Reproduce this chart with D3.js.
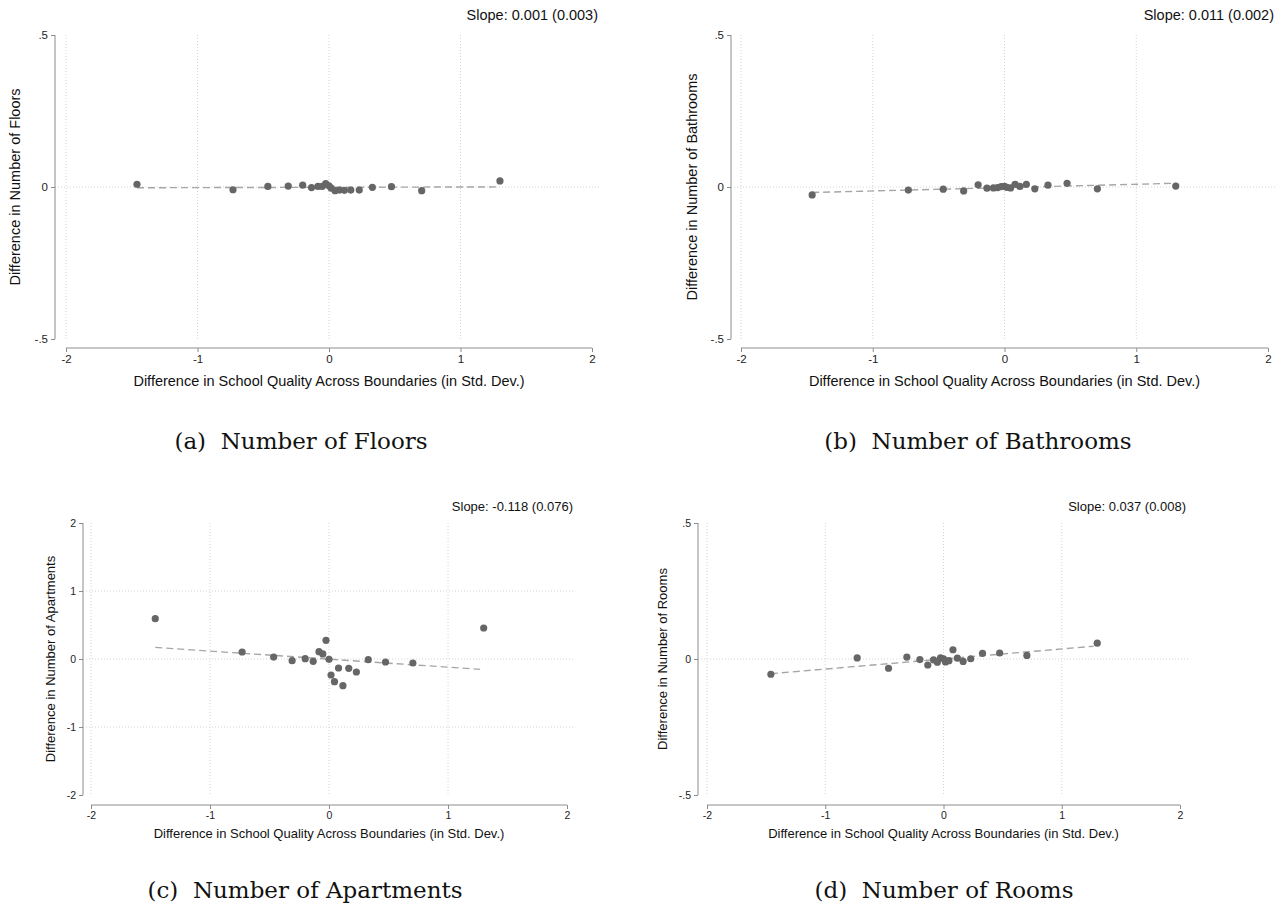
<!DOCTYPE html>
<html>
<head>
<meta charset="utf-8">
<script src="https://cdn.jsdelivr.net/npm/d3@7"></script>
<style>
  html, body { margin: 0; padding: 0; background: #fff; }
  svg { display: block; }
</style>
</head>
<body>
<svg id="chart" width="1288" height="909"></svg>
<script>
// ---------------- DATA ----------------
const xDiff = [-1.46, -0.73, -0.465, -0.31, -0.20, -0.133, -0.084, -0.052, -0.025, 0.0,
               0.017, 0.046, 0.08, 0.117, 0.166, 0.23, 0.33, 0.475, 0.705, 1.30];
const yFloors = [0.009, -0.009, 0.002, 0.003, 0.006, -0.002, 0.002, 0.002, 0.011, 0.004,
                 -0.004, -0.012, -0.010, -0.011, -0.010, -0.010, -0.001, 0.001, -0.012, 0.020];
const yBathrooms = [-0.026, -0.010, -0.007, -0.013, 0.007, -0.004, -0.003, -0.002, 0.001, 0.002,
                    -0.001, -0.003, 0.009, 0.002, 0.009, -0.006, 0.006, 0.012, -0.006, 0.003];
const yApartments = [0.593, 0.103, 0.029, -0.025, 0.005, -0.034, 0.108, 0.074, 0.275, -0.005,
                     -0.235, -0.333, -0.132, -0.392, -0.137, -0.191, -0.010, -0.044, -0.059, 0.456];
const yRooms = [-0.056, 0.004, -0.034, 0.007, -0.002, -0.022, -0.003, -0.012, 0.004, 0.001,
                -0.011, -0.006, 0.034, 0.003, -0.009, 0.001, 0.021, 0.022, 0.013, 0.058];

const slopes = [0.001, 0.011, -0.118, 0.037];
const slopeSE = [0.003, 0.002, 0.076, 0.008];
const intercepts = [-0.001, -0.002, -0.002, 0.0];
const fitRange = [-1.46, 1.27];

const xTicks = [-2, -1, 0, 1, 2];
const yTicksHalf = [-0.5, 0, 0.5];
const yTicksApt = [-2, -1, 0, 1, 2];
const xGridTicks = [-2, -1, 0, 1];
const yGridHalf = [0];
const yGridApt = [-1, 0, 1];

const captions = ["(a)  Number of Floors", "(b)  Number of Bathrooms",
                  "(c)  Number of Apartments", "(d)  Number of Rooms"];
const yTitles = ["Difference in Number of Floors", "Difference in Number of Bathrooms",
                 "Difference in Number of Apartments", "Difference in Number of Rooms"];
const xTitle = "Difference in School Quality Across Boundaries (in Std. Dev.)";

// ---------------- LAYOUT ----------------
const panels = [
  { ys: yFloors,    yDom: [-0.5, 0.5], yTicks: yTicksHalf, yGrid: yGridHalf,
    x0: 66,  x1: 592,  yTop: 35,  yBot: 339, axX: 55,  axY: 348, yTitleX: 15,
    slopeY: 20, xTitleY: 386, tickFs: 11.5, titleFs: 14.5, slopeFs: 14.5, capX: 301, capY: 449 },
  { ys: yBathrooms, yDom: [-0.5, 0.5], yTicks: yTicksHalf, yGrid: yGridHalf,
    x0: 741, x1: 1268, yTop: 35,  yBot: 339, axX: 731, axY: 348, yTitleX: 692,
    slopeY: 20, xTitleY: 386, tickFs: 11.5, titleFs: 14.5, slopeFs: 14.5, capX: 978, capY: 449 },
  { ys: yApartments, yDom: [-2, 2], yTicks: yTicksApt, yGrid: yGridApt,
    x0: 91,  x1: 567,  yTop: 523, yBot: 795, axX: 83,  axY: 805, yTitleX: 50,
    slopeY: 511, xTitleY: 838, tickFs: 10.5, titleFs: 13, slopeFs: 13, capX: 305, capY: 898 },
  { ys: yRooms,     yDom: [-0.5, 0.5], yTicks: yTicksHalf, yGrid: yGridHalf,
    x0: 707, x1: 1180, yTop: 523, yBot: 795, axX: 698, axY: 805, yTitleX: 662,
    slopeY: 511, xTitleY: 838, tickFs: 10.5, titleFs: 13, slopeFs: 13, capX: 944, capY: 898 }
];

const svg = d3.select("#chart");
const fmt = v => {
  if (v === 0) return "0";
  let s = String(v);
  return s.replace(/^0\./, ".").replace(/^-0\./, "-.");
};
const axisColor = "#8c8c8c";
const gridColor = "#d4d4d4";
const sans = "'Liberation Sans', Arial, sans-serif";

panels.forEach((p, i) => {
  const g = svg.append("g");
  const x = d3.scaleLinear().domain([-2, 2]).range([p.x0, p.x1]);
  const y = d3.scaleLinear().domain(p.yDom).range([p.yBot, p.yTop]);

  // grid lines
  g.selectAll(".vg").data(xGridTicks).join("line")
    .attr("x1", d => x(d)).attr("x2", d => x(d))
    .attr("y1", p.yTop).attr("y2", p.yBot)
    .attr("stroke", gridColor).attr("stroke-width", 1).attr("stroke-dasharray", "1,2");
  g.selectAll(".hg").data(p.yGrid).join("line")
    .attr("x1", p.axX).attr("x2", p.x1 + 8)
    .attr("y1", d => y(d)).attr("y2", d => y(d))
    .attr("stroke", gridColor).attr("stroke-width", 1).attr("stroke-dasharray", "1,2");

  // y axis
  const yAxis = d3.axisLeft(y).tickValues(p.yTicks).tickFormat(fmt).tickSize(4).tickPadding(3);
  const ya = g.append("g").attr("transform", `translate(${p.axX},0)`).call(yAxis);
  ya.select(".domain").attr("d", `M0,${p.yTop}V${p.yBot}`).attr("stroke", axisColor);
  ya.selectAll(".tick line").attr("stroke", axisColor);
  ya.selectAll(".tick text").attr("font-family", sans).attr("font-size", p.tickFs).attr("fill", "#222");

  // x axis
  const xAxis = d3.axisBottom(x).tickValues(xTicks).tickFormat(fmt).tickSize(4).tickPadding(3);
  const xa = g.append("g").attr("transform", `translate(0,${p.axY})`).call(xAxis);
  xa.select(".domain").attr("d", `M${p.x0},0H${p.x1}`).attr("stroke", axisColor);
  xa.selectAll(".tick line").attr("stroke", axisColor);
  xa.selectAll(".tick text").attr("font-family", sans).attr("font-size", p.tickFs).attr("fill", "#222");

  // fit line
  const fit = fitRange.map(v => [v, intercepts[i] + slopes[i] * v]);
  g.append("path")
    .attr("d", d3.line().x(d => x(d[0])).y(d => y(d[1]))(fit))
    .attr("fill", "none").attr("stroke", "#a6a6a6").attr("stroke-width", 1.4)
    .attr("stroke-dasharray", "7,4");

  // points
  const pts = xDiff.map((v, k) => [v, p.ys[k]]);
  g.selectAll(".pt").data(pts).join("circle")
    .attr("cx", d => x(d[0])).attr("cy", d => y(d[1])).attr("r", 3.6)
    .attr("fill", "#666666");

  // slope label
  g.append("text")
    .attr("x", p.x1 + 6).attr("y", p.slopeY)
    .attr("text-anchor", "end").attr("font-family", sans).attr("font-size", p.slopeFs)
    .attr("fill", "#111")
    .text(`Slope: ${slopes[i].toFixed(3)} (${slopeSE[i].toFixed(3)})`);

  // axis titles
  g.append("text")
    .attr("x", x(0)).attr("y", p.xTitleY)
    .attr("text-anchor", "middle").attr("font-family", sans).attr("font-size", p.titleFs)
    .attr("fill", "#111").text(xTitle);
  g.append("text")
    .attr("transform", `translate(${p.yTitleX},${y(0)}) rotate(-90)`)
    .attr("text-anchor", "middle").attr("dominant-baseline", "central")
    .attr("font-family", sans).attr("font-size", p.titleFs)
    .attr("fill", "#111").text(yTitles[i]);

  // caption
  g.append("text")
    .attr("x", p.capX).attr("y", p.capY)
    .attr("text-anchor", "middle").attr("font-family", "'DejaVu Serif', 'Liberation Serif', serif")
    .attr("font-size", 23).attr("fill", "#111")
    .attr("xml:space", "preserve")
    .text(captions[i]);
});
</script>
</body>
</html>
